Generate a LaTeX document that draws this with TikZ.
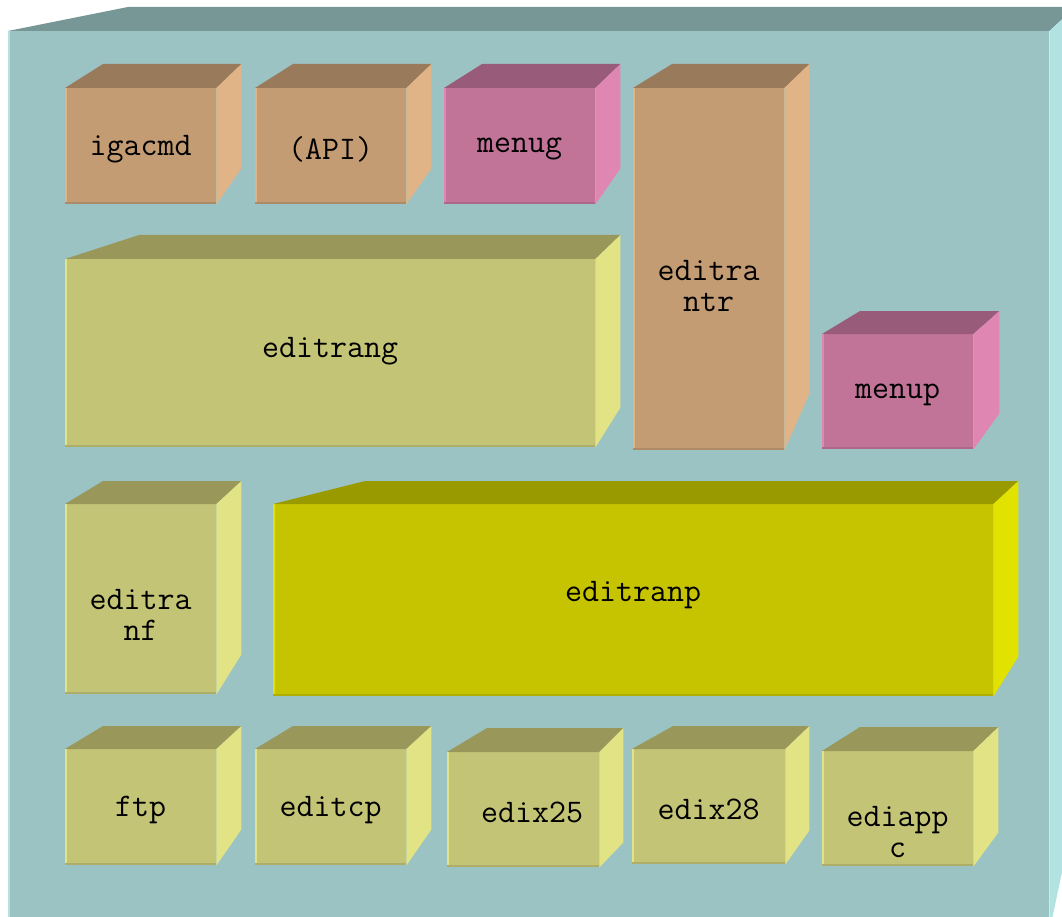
\documentclass[tikz,border=0pt]{standalone}
\usepackage{fontspec}
\usetikzlibrary{calc}
\definecolor{framefront}{HTML}{9CC3C3}
\definecolor{frametop}{HTML}{779796}
\definecolor{frameside}{HTML}{B3E2E2}
\definecolor{tanfront}{HTML}{C49C74}
\definecolor{tantop}{HTML}{997A5B}
\definecolor{tanside}{HTML}{E1B487}
\definecolor{pinkfront}{HTML}{C27498}
\definecolor{pinktop}{HTML}{985B79}
\definecolor{pinkside}{HTML}{E086B3}
\definecolor{olivefront}{HTML}{C3C476}
\definecolor{olivetop}{HTML}{99985A}
\definecolor{oliveside}{HTML}{E2E385}
\definecolor{limefront}{HTML}{C6C400}
\definecolor{limetop}{HTML}{999900}
\definecolor{limeside}{HTML}{E2E200}

% top and side faces of a cube: node, back-left, back-right, top depth, side drop, colour
\newcommand{\cubefaces}[6]{%
  \fill[#6top] (#1.north west) -- ++(#2,-#4) -- ($(#1.north east)+(#3,-#4)$) -- (#1.north east) -- cycle;
  \fill[#6side] (#1.north east) -- ++(#3,-#4) -- ($(#1.south east)+(#3,-#5)$) -- (#1.south east) -- cycle;
  \draw[#6side, line width=2pt] ([xshift=1pt]#1.south west) -- ([xshift=1pt]#1.north west);
  \draw[#6top!50!#6front, line width=2pt] ([yshift=1pt]#1.south west) -- ([yshift=1pt]#1.south east);
}

\begin{document}
\begin{tikzpicture}[
    x=1pt, y=-1pt,
    cube/.style={anchor=north west, inner sep=0pt, fill=#1front},
    tag/.style={font=\ttfamily\fontsize{33}{31}\selectfont, align=center, inner sep=0pt, yshift=-3pt},
]
\useasboundingbox (0,0) rectangle (1062,917);
\clip (0,0) rectangle (1062,917);

% Outer frame
\node[cube=frame, minimum width=1041pt, minimum height=900pt] (frame) at (8,31) {};
\cubefaces{frame}{120}{26}{24}{122}{frame}

% Row 1
\node[cube=tan, minimum width=151pt, minimum height=116pt] (igacmd) at (65,88) {};
\cubefaces{igacmd}{38}{25}{24}{36}{tan}
\node[cube=tan, minimum width=151pt, minimum height=116pt] (api) at (255,88) {};
\cubefaces{api}{38}{25}{24}{36}{tan}
\node[cube=pink, minimum width=151pt, minimum height=116pt] (menug) at (444,88) {};
\cubefaces{menug}{38}{25}{24}{36}{pink}
\node[cube=tan, minimum width=151pt, minimum height=362pt] (editrantr) at (633,88) {};
\cubefaces{editrantr}{39}{25}{24}{57}{tan}

% Row 2
\node[cube=olive, minimum width=530pt, minimum height=188pt] (editrang) at (65,259) {};
\cubefaces{editrang}{74}{25}{24}{40}{olive}
\node[cube=pink, minimum width=151pt, minimum height=115pt] (menup) at (822,334) {};
\cubefaces{menup}{38}{26}{23}{36}{pink}

% Row 3
\node[cube=olive, minimum width=151pt, minimum height=190pt] (editranf) at (65,504) {};
\cubefaces{editranf}{38}{25}{23}{40}{olive}
\node[cube=lime, minimum width=720pt, minimum height=192pt] (editranp) at (273,504) {};
\cubefaces{editranp}{92}{25}{23}{40}{lime}

% Row 4
\node[cube=olive, minimum width=151pt, minimum height=116pt] (ftp) at (65,749) {};
\cubefaces{ftp}{38}{25}{23}{36}{olive}
\node[cube=olive, minimum width=151pt, minimum height=116pt] (editcp) at (255,749) {};
\cubefaces{editcp}{38}{25}{23}{36}{olive}
\node[cube=olive, minimum width=152pt, minimum height=115pt] (edix25) at (447,752) {};
\cubefaces{edix25}{40}{24}{24}{25}{olive}
\node[cube=olive, minimum width=153pt, minimum height=115pt] (edix28) at (632,749) {};
\cubefaces{edix28}{41}{24}{23}{34}{olive}
\node[cube=olive, minimum width=151pt, minimum height=115pt] (ediappc) at (822,751) {};
\cubefaces{ediappc}{38}{25}{24}{34}{olive}

% Labels
\node[tag] (igacmd-tag) at (igacmd) {igacmd};
\node[tag] (api-tag) at (api) {(API)};
\node[tag] (menug-tag) at (menug) {menug};
\node[tag] (editrantr-tag) at ($(editrantr)+(0,14)$) {editra\\ntr};
\node[tag] (editrang-tag) at ($(editrang)+(0,-5)$) {editrang};
\node[tag] (menup-tag) at (menup) {menup};
\node[tag] (editranf-tag) at ($(editranf)+(0,13)$) {editra\\nf};
\node[tag] (editranp-tag) at ($(editranp)+(0,-8)$) {editranp};
\node[tag] (ftp-tag) at (ftp) {ftp};
\node[tag] (editcp-tag) at (editcp) {editcp};
\node[tag] (edix25-tag) at ($(edix25)+(9,0)$) {edix25};
\node[tag] (edix28-tag) at (edix28) {edix28};
\node[tag] (ediappc-tag) at ($(ediappc)+(0,20)$) {ediapp\\c};

\end{tikzpicture}
\end{document}
